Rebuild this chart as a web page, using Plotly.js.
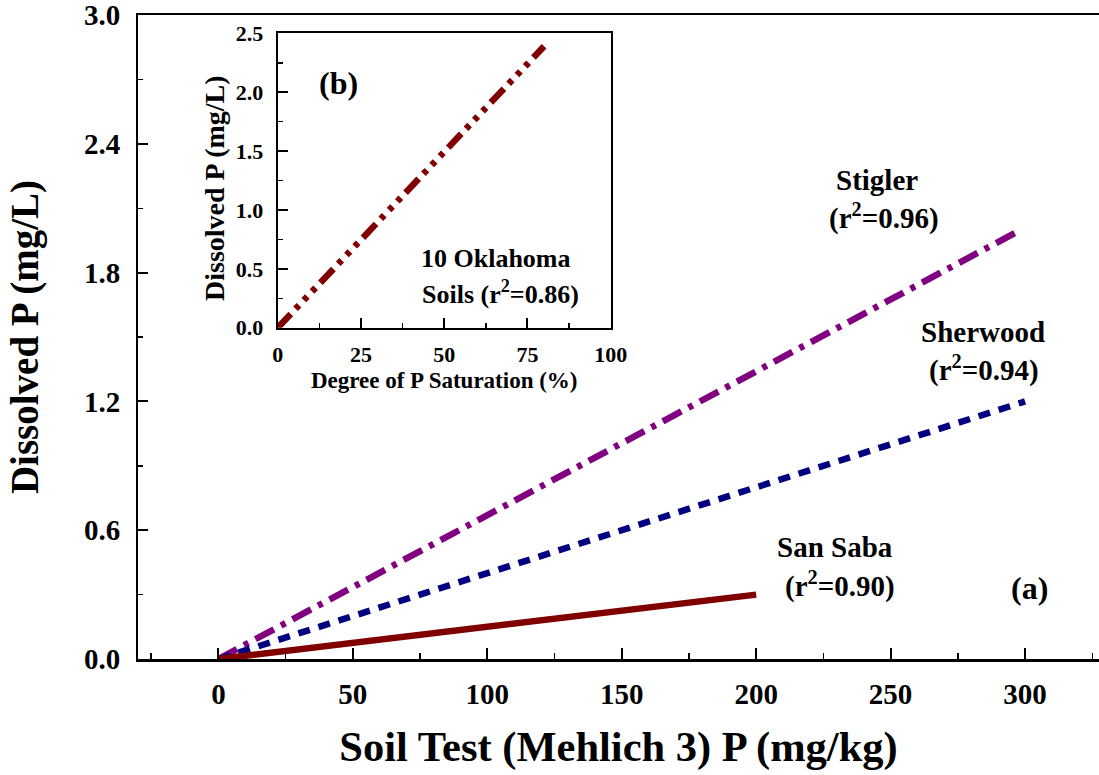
<!DOCTYPE html>
<html>
<head>
<meta charset="utf-8">
<script src="https://cdn.plot.ly/plotly-3.0.1.min.js"></script>
<style>html,body{margin:0;padding:0;background:#fff;}#chart{width:1099px;height:775px;}</style>
</head>
<body>
<div id="chart"></div>
<script>
// Main panel (a): Dissolved P vs soil test (Mehlich 3) P
const stiglerX = [0, 297];
const stiglerY = [0, 1.99];
const sherwoodX = [0, 300];
const sherwoodY = [0, 1.2];
const sanSabaX = [0, 200];
const sanSabaY = [0, 0.3];
// Inset panel (b): Dissolved P vs degree of P saturation
const oklahomaX = [0, 80];
const oklahomaY = [0, 2.39];

const mainXTicks = [0, 50, 100, 150, 200, 250, 300];
const mainYTicks = [0, 0.6, 1.2, 1.8, 2.4, 3.0];
const insetXTicks = [0, 25, 50, 75, 100];
const insetYTicks = [0, 0.5, 1.0, 1.5, 2.0, 2.5];

const FONT = '"Liberation Serif", "Times New Roman", serif';
const bold = (size) => ({family: FONT, size: size, color: '#000', weight: 'bold'});

const traces = [
  {x: stiglerX, y: stiglerY, type: 'scatter', mode: 'lines', name: 'Stigler',
   line: {color: '#800080', width: 6.5, dash: '21px,8px,5px,8px'}, xaxis: 'x', yaxis: 'y'},
  {x: sherwoodX, y: sherwoodY, type: 'scatter', mode: 'lines', name: 'Sherwood',
   line: {color: '#000080', width: 6.5, dash: '12px,9px'}, xaxis: 'x', yaxis: 'y'},
  {x: sanSabaX, y: sanSabaY, type: 'scatter', mode: 'lines', name: 'San Saba',
   line: {color: '#800000', width: 6.5}, xaxis: 'x', yaxis: 'y'},
  {x: oklahomaX, y: oklahomaY, type: 'scatter', mode: 'lines', name: '10 Oklahoma Soils',
   line: {color: '#800000', width: 6.5, dash: '19px,7px,5px,7px,5px,7px,5px,7px'}, xaxis: 'x2', yaxis: 'y2'}
];

const layout = {
  width: 1099, height: 775,
  margin: {l: 138, r: 0, t: 15, b: 116},
  paper_bgcolor: '#fff', plot_bgcolor: 'rgba(0,0,0,0)',
  showlegend: false,
  font: {family: FONT, color: '#000'},
  xaxis: {
    range: [-29.9, 327.5], domain: [0, 1],
    tickvals: mainXTicks, ticktext: mainXTicks.map(String),
    ticks: 'inside', ticklen: 11, tickwidth: 2, tickcolor: '#000',
    minor: {tickvals: [-25, 25, 75, 125, 175, 225, 275, 325], ticks: 'inside', ticklen: 6, tickwidth: 1.5, tickcolor: '#000', showgrid: false},
    showline: true, linewidth: 2.5, linecolor: '#000', mirror: true,
    showgrid: false, zeroline: false, ticklabeloverflow: 'allow',
    tickfont: bold(29), ticklabelstandoff: 8,
    title: {text: 'Soil Test (Mehlich 3) P (mg/kg)', font: bold(42.5), standoff: 22}
  },
  yaxis: {
    range: [0, 3.0005], domain: [0, 1],
    tickvals: mainYTicks, ticktext: mainYTicks.map(v => v.toFixed(1)),
    ticks: 'inside', ticklen: 10, tickwidth: 2, tickcolor: '#000',
    minor: {tickvals: [0.3, 0.9, 1.5, 2.1, 2.7], ticks: 'inside', ticklen: 5, tickwidth: 1.5, tickcolor: '#000', showgrid: false},
    showline: true, linewidth: 2, linecolor: '#000', mirror: false,
    showgrid: false, zeroline: false, ticklabeloverflow: 'allow',
    tickfont: bold(29), ticklabelstandoff: 10,
    title: {text: 'Dissolved P (mg/L)', font: bold(39), standoff: 33}
  },
  xaxis2: {
    range: [0, 100], domain: [0.1454, 0.4919], anchor: 'y2',
    tickvals: insetXTicks, ticktext: insetXTicks.map(String),
    ticks: 'inside', ticklen: 10, tickwidth: 2, tickcolor: '#000',
    minor: {tickvals: [12.5, 37.5, 62.5, 87.5], ticks: 'inside', ticklen: 5, tickwidth: 1.5, tickcolor: '#000', showgrid: false},
    showline: true, linewidth: 2, linecolor: '#000', mirror: true,
    showgrid: false, zeroline: false, ticklabeloverflow: 'allow',
    tickfont: bold(22), ticklabelstandoff: 6,
    title: {text: 'Degree of P Saturation (%)', font: bold(23), standoff: 6}
  },
  yaxis2: {
    range: [0, 2.5005], domain: [0.5144, 0.9716], anchor: 'x2',
    tickvals: insetYTicks, ticktext: insetYTicks.map(v => v.toFixed(1)),
    ticks: 'inside', ticklen: 10, tickwidth: 2, tickcolor: '#000',
    minor: {tickvals: [0.25, 0.75, 1.25, 1.75, 2.25], ticks: 'inside', ticklen: 5, tickwidth: 1.5, tickcolor: '#000', showgrid: false},
    showline: true, linewidth: 2, linecolor: '#000', mirror: true,
    showgrid: false, zeroline: false, ticklabeloverflow: 'allow',
    tickfont: bold(22), ticklabelstandoff: 8
  },
  annotations: [
    {xref: 'paper', yref: 'paper', x: 0.0801, y: 0.7314, xanchor: 'center', yanchor: 'middle', textangle: -90,
     text: 'Dissolved P (mg/L)', showarrow: false, font: bold(28)},
    {xref: 'x', yref: 'y', x: 244.8, y: 2.23, text: 'Stigler', showarrow: false, font: bold(29)},
    {xref: 'x', yref: 'y', x: 247.5, y: 2.06, text: '(r<sup>2</sup>=0.96)', showarrow: false, font: bold(29)},
    {xref: 'x', yref: 'y', x: 284.3, y: 1.524, text: 'Sherwood', showarrow: false, font: bold(29)},
    {xref: 'x', yref: 'y', x: 284.6, y: 1.355, text: '(r<sup>2</sup>=0.94)', showarrow: false, font: bold(29)},
    {xref: 'x', yref: 'y', x: 229.3, y: 0.521, text: 'San Saba', showarrow: false, font: bold(29)},
    {xref: 'x', yref: 'y', x: 231.1, y: 0.345, text: '(r<sup>2</sup>=0.90)', showarrow: false, font: bold(29)},
    {xref: 'x', yref: 'y', x: 301.7, y: 0.33, text: '(a)', showarrow: false, font: bold(32)},
    {xref: 'x2', yref: 'y2', x: 18.4, y: 2.077, text: '(b)', showarrow: false, font: bold(32)},
    {xref: 'x2', yref: 'y2', x: 65.5, y: 0.592, text: '10 Oklahoma', showarrow: false, font: bold(26)},
    {xref: 'x2', yref: 'y2', x: 66.8, y: 0.303, text: 'Soils (r<sup>2</sup>=0.86)', showarrow: false, font: bold(26)}
  ]
};

Plotly.newPlot('chart', traces, layout, {staticPlot: true, displayModeBar: false});
</script>
</body>
</html>
